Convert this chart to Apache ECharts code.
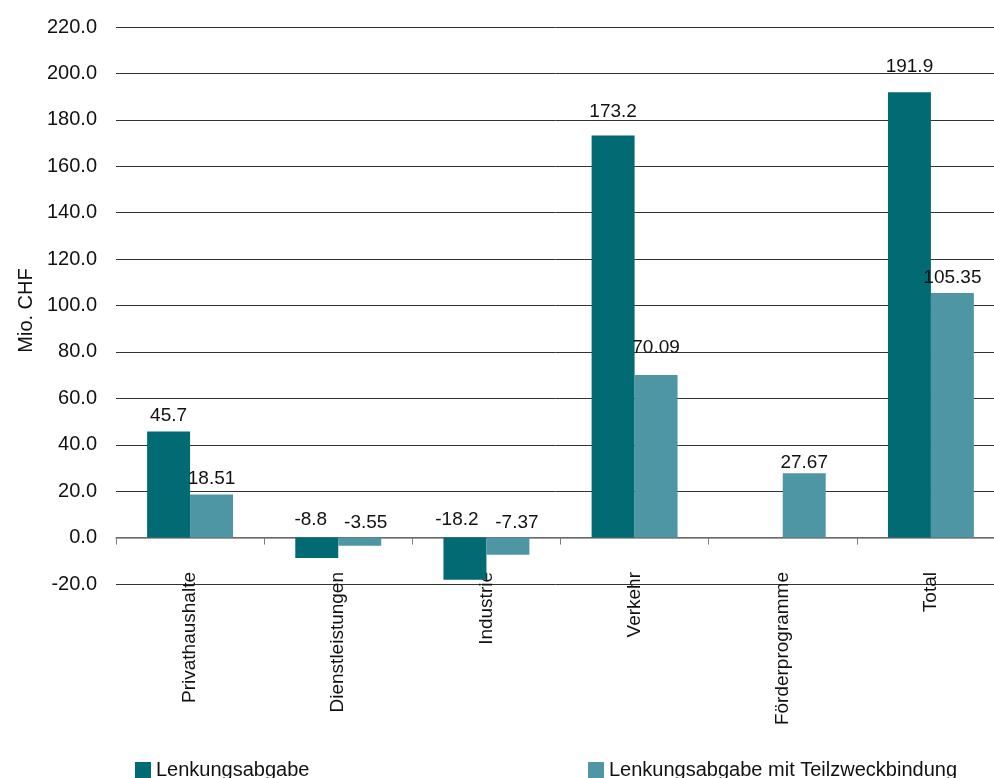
<!DOCTYPE html>
<html>
<head>
<meta charset="utf-8">
<script src="https://cdn.jsdelivr.net/npm/echarts@6/dist/echarts.min.js"></script>
<style>
html,body{margin:0;padding:0;background:#fff;}
#c{width:994px;height:778px;}
</style>
</head>
<body>
<div id="c"></div>
<script>
var categories = ['Privathaushalte', 'Dienstleistungen', 'Industrie', 'Verkehr', 'Förderprogramme', 'Total'];
var lenkungsabgabe = [45.7, -8.8, -18.2, 173.2, null, 191.9];
var teilzweckbindung = [18.51, -3.55, -7.37, 70.09, 27.67, 105.35];
var seriesNames = ['Lenkungsabgabe', 'Lenkungsabgabe mit Teilzweckbindung'];
var yTicks = { min: -20, max: 220, interval: 20 };

// label placement tweaks (style only, px)
var darkLabelDist = [6, 8, 8, 14, 6, 16];
var lightLabelDist = [6, 5, 5, 18, 1, 6];
var darkLabelDx = [0, -6, -8, 0, 0, 0];
var lightLabelDx = [0, 6, 9, 0, 0, 0];

var FONT = '"Liberation Sans", Arial, sans-serif';
var chart = echarts.init(document.getElementById('c'), null, { renderer: 'canvas' });
function legendAt(left, name) {
  return {
    left: left, top: 760, padding: 0, itemWidth: 16, itemHeight: 16, itemGap: 5,
    icon: 'rect', selectedMode: false,
    textStyle: { fontFamily: FONT, fontSize: 20, lineHeight: 16, color: '#111' },
    data: [name]
  };
}
function withLabels(values, dists, dxs) {
  return values.map(function (v, i) {
    return { value: v, label: { distance: dists[i], offset: [dxs[i], 0] } };
  });
}
chart.setOption({
  animation: false,
  backgroundColor: '#ffffff',
  textStyle: { fontFamily: FONT },
  grid: { left: 116, right: -11, top: 27, bottom: 194, containLabel: false, outerBoundsMode: 'none' },
  legend: [legendAt(135, seriesNames[0]), legendAt(588, seriesNames[1])],
  xAxis: {
    type: 'category',
    data: categories,
    axisLine: { lineStyle: { color: '#7f7f7f', width: 1.5 } },
    axisTick: { show: true, length: 7, lineStyle: { color: '#7f7f7f' } },
    axisLabel: { rotate: 90, margin: -12, fontFamily: FONT, fontSize: 19, color: '#111' }
  },
  yAxis: {
    type: 'value',
    min: yTicks.min, max: yTicks.max, interval: yTicks.interval,
    name: 'Mio. CHF', nameLocation: 'middle', nameGap: 80, nameRotate: 90,
    nameTextStyle: { fontFamily: FONT, fontSize: 20, color: '#111', padding: [0, 10, 0, 0] },
    axisLine: { show: false },
    axisTick: { show: false },
    axisLabel: { margin: 19, fontFamily: FONT, fontSize: 20, color: '#111',
      formatter: function (v) { return v.toFixed(1); } },
    splitLine: { lineStyle: { color: '#333', width: 1 } }
  },
  series: [
    {
      name: seriesNames[0], type: 'bar', data: withLabels(lenkungsabgabe, darkLabelDist, darkLabelDx),
      barGap: '0%', barCategoryGap: '42%',
      itemStyle: { color: '#016a73' },
      label: { show: true, position: 'top', distance: 6, fontFamily: FONT, fontSize: 19, color: '#111',
        formatter: function (p) { return p.value == null ? '' : p.value.toFixed(1); } }
    },
    {
      name: seriesNames[1], type: 'bar', data: withLabels(teilzweckbindung, lightLabelDist, lightLabelDx),
      itemStyle: { color: '#4f96a4' },
      label: { show: true, position: 'top', distance: 6, fontFamily: FONT, fontSize: 19, color: '#111',
        formatter: function (p) { return p.value.toFixed(2); } }
    }
  ]
});
</script>
</body>
</html>
